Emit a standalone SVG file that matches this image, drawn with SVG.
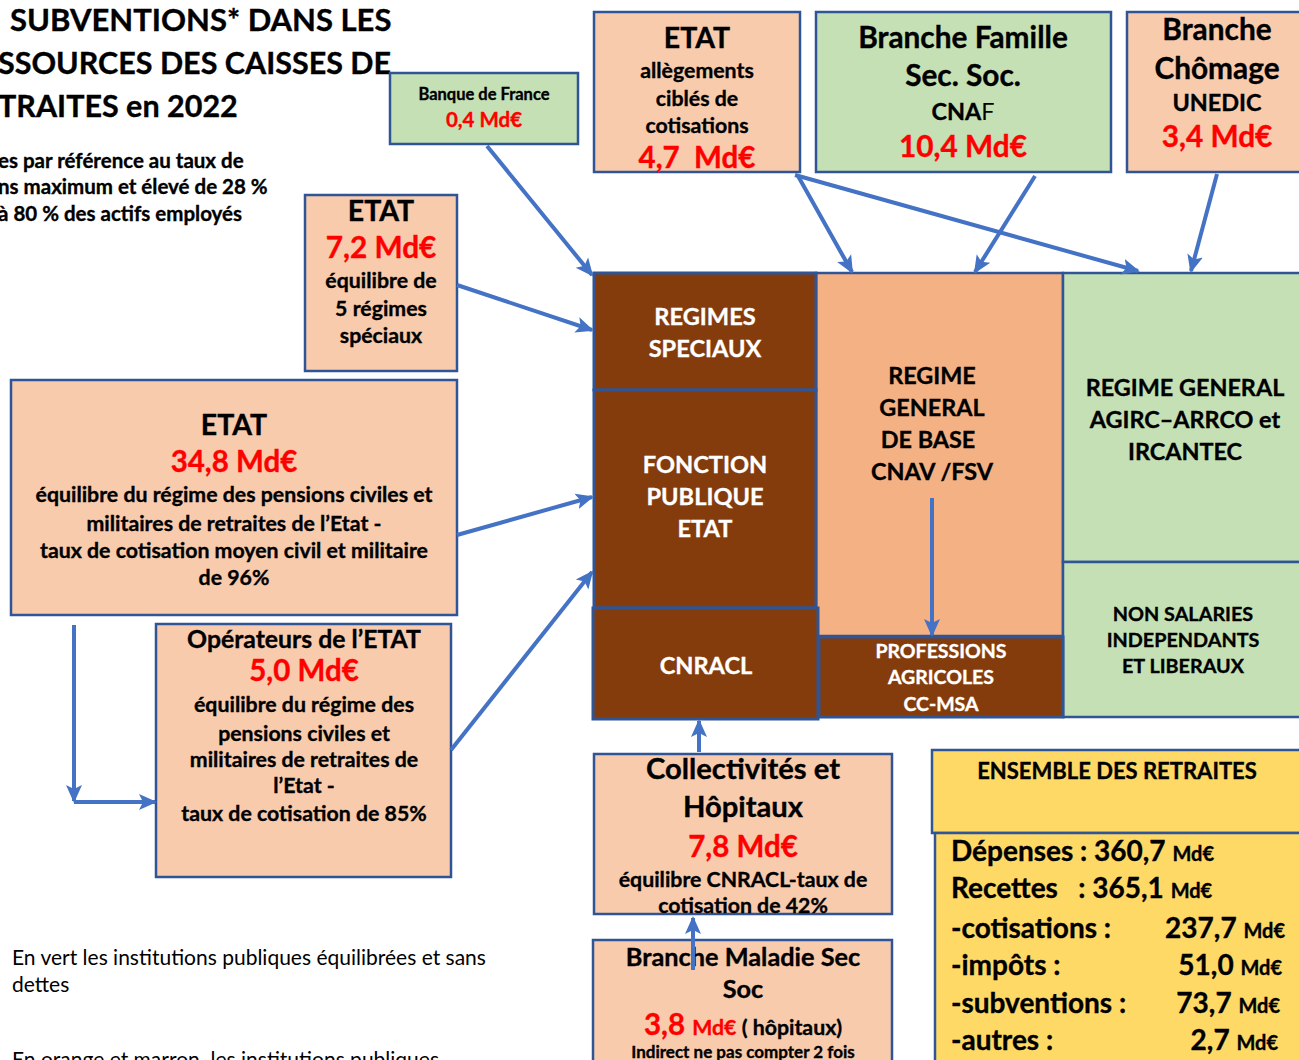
<svg xmlns="http://www.w3.org/2000/svg" width="1299" height="1060" viewBox="0 0 1299 1060">
<defs>
<marker id="ah" markerUnits="userSpaceOnUse" markerWidth="18" markerHeight="18" viewBox="0 0 18 18" refX="16" refY="9" orient="auto">
<path d="M0,1 L18,9 L0,17 L4,9 Z" fill="#4472C4"/>
</marker>
</defs>
<style>
text{font-family:Lato,"Open Sans","Noto Sans",sans-serif;font-weight:bold;text-anchor:middle;fill:#000;stroke:#000;stroke-width:0.35}
.peach{fill:#F8CBAD;stroke:#2F5597;stroke-width:2.5}
.green{fill:#C5E0B4;stroke:#2F5597;stroke-width:2.5}
.brown{fill:#843C0C;stroke:#2F5597;stroke-width:3}
.orange{fill:#F4B183;stroke:#2F5597;stroke-width:2.5}
.yellow{fill:#FFD966;stroke:#2F5597;stroke-width:2.5}
.red{fill:#FF0000;stroke:#FF0000}
.w{fill:#FFFFFF;stroke:#FFFFFF}
.l{text-anchor:start}
.r{text-anchor:end}
.n{font-weight:normal;stroke:none}
.c line{stroke:#4472C4;stroke-width:4;fill:none}
</style>

<g id="title">
<text class="l" x="10" y="31" font-size="31">SUBVENTIONS* DANS LES</text>
<text class="l" x="-2" y="74" font-size="30.5">SSOURCES DES CAISSES DE</text>
<text class="l" x="-2" y="117" font-size="30.5">TRAITES en 2022</text>
<text class="l" x="-2" y="168" font-size="20.5">es par référence au taux de</text>
<text class="l" x="-2" y="194" font-size="20.5">ns maximum et élevé de 28 %</text>
<text class="l" x="-2" y="221" font-size="20.5">à 80 % des actifs employés</text>
</g>

<g id="banque-de-france">
<rect class="green" x="390" y="73" width="188" height="71"/>
<text x="484" y="100" font-size="16.5">Banque de France</text>
<text class="red" x="484" y="127" font-size="20.5">0,4 Md€</text>
</g>

<g id="etat-allegements">
<rect class="peach" x="594" y="12" width="206" height="160"/>
<text x="697" y="48" font-size="28.5">ETAT</text>
<text x="697" y="78" font-size="21.3">allègements</text>
<text x="697" y="106" font-size="21.3">ciblés de</text>
<text x="697" y="133" font-size="21.3">cotisations</text>
<text class="red" x="697" y="168" font-size="29.5" xml:space="preserve">4,7  Md€</text>
</g>

<g id="branche-famille">
<rect class="green" x="816" y="12" width="295" height="160"/>
<text x="963" y="48" font-size="29.8">Branche Famille</text>
<text x="963" y="86" font-size="29.8">Sec. Soc.</text>
<text x="963" y="120" font-size="23.4">CNA<tspan class="n">F</tspan></text>
<text class="red" x="963" y="157" font-size="29.8">10,4 Md€</text>
</g>

<g id="branche-chomage">
<rect class="peach" x="1127" y="12" width="180" height="160"/>
<text x="1217" y="40" font-size="29.8">Branche</text>
<text x="1217" y="79" font-size="29.8">Chômage</text>
<text x="1217" y="111" font-size="23.4">UNEDIC</text>
<text class="red" x="1217" y="147" font-size="29.8">3,4 Md€</text>
</g>

<g id="etat-regimes-speciaux">
<rect class="peach" x="305" y="195" width="152" height="176"/>
<text x="381" y="221" font-size="28.5">ETAT</text>
<text class="red" x="381" y="258" font-size="29.8">7,2 Md€</text>
<text x="381" y="288" font-size="21.3">équilibre de</text>
<text x="381" y="316" font-size="21.3">5 régimes</text>
<text x="381" y="343" font-size="21.3">spéciaux</text>
</g>

<g id="etat-fonction-publique">
<rect class="peach" x="11" y="380" width="446" height="235"/>
<text x="234" y="435" font-size="28.5">ETAT</text>
<text class="red" x="234" y="472" font-size="29.5">34,8 Md€</text>
<text x="234" y="502" font-size="21.3">équilibre du régime des pensions civiles et</text>
<text x="234" y="531" font-size="21.3">militaires de retraites de l’Etat -</text>
<text x="234" y="558" font-size="21.3">taux de cotisation moyen civil et militaire</text>
<text x="234" y="585" font-size="21.3">de 96%</text>
</g>

<g id="operateurs-etat">
<rect class="peach" x="156" y="624" width="295" height="253"/>
<text x="304" y="648" font-size="24.8">Opérateurs de l’ETAT</text>
<text class="red" x="304" y="681" font-size="29.5">5,0 Md€</text>
<text x="304" y="712" font-size="21.3">équilibre du régime des</text>
<text x="304" y="741" font-size="21.3">pensions civiles et</text>
<text x="304" y="767" font-size="21.3">militaires de retraites de</text>
<text x="304" y="793" font-size="21.3">l’Etat -</text>
<text x="304" y="821" font-size="21.3">taux de cotisation de 85%</text>
</g>

<g id="regime-general-base">
<rect class="orange" x="816" y="273" width="247" height="363"/>
<text x="932" y="384" font-size="23.4">REGIME</text>
<text x="932" y="416" font-size="23.4">GENERAL</text>
<text x="928" y="448" font-size="23.4">DE BASE</text>
<text x="932" y="480" font-size="23.4">CNAV /FSV</text>
</g>

<g id="regime-general-agirc">
<rect class="green" x="1063" y="273" width="240" height="289"/>
<text x="1185" y="396" font-size="23.4">REGIME GENERAL</text>
<text x="1185" y="428" font-size="23.4">AGIRC–ARRCO et</text>
<text x="1185" y="460" font-size="23.4">IRCANTEC</text>
</g>

<g id="non-salaries">
<rect class="green" x="1063" y="562" width="240" height="155"/>
<text x="1183" y="621" font-size="19.8">NON SALARIES</text>
<text x="1183" y="647" font-size="19.8">INDEPENDANTS</text>
<text x="1183" y="673" font-size="19.8">ET LIBERAUX</text>
</g>

<g id="regimes-speciaux">
<rect class="brown" x="594" y="273" width="222" height="117"/>
<text class="w" x="705" y="325" font-size="23.6">REGIMES</text>
<text class="w" x="705" y="357" font-size="23.6">SPECIAUX</text>
</g>

<g id="fonction-publique-etat">
<rect class="brown" x="594" y="390" width="222" height="218"/>
<text class="w" x="705" y="473" font-size="23.6">FONCTION</text>
<text class="w" x="705" y="505" font-size="23.6">PUBLIQUE</text>
<text class="w" x="705" y="537" font-size="23.6">ETAT</text>
</g>

<g id="cnracl">
<rect class="brown" x="593" y="608" width="225" height="111"/>
<text class="w" x="706" y="674" font-size="23.6">CNRACL</text>
</g>

<g id="professions-agricoles">
<rect class="brown" x="819" y="637" width="244" height="80"/>
<text class="w" x="941" y="658" font-size="19.5">PROFESSIONS</text>
<text class="w" x="941" y="684" font-size="19.5">AGRICOLES</text>
<text class="w" x="941" y="711" font-size="19.5">CC-MSA</text>
</g>

<g id="collectivites-hopitaux">
<rect class="peach" x="594" y="754" width="298" height="160"/>
<text x="743" y="779" font-size="29.2">Collectivités et</text>
<text x="743" y="817" font-size="29.2">Hôpitaux</text>
<text class="red" x="743" y="857" font-size="29.5">7,8 Md€</text>
<text x="743" y="887" font-size="21.3">équilibre CNRACL-taux de</text>
<text x="743" y="913" font-size="21.3">cotisation de 42%</text>
</g>

<g id="branche-maladie">
<rect class="peach" x="593" y="940" width="299" height="130"/>
<text x="743" y="966" font-size="25.3">Branche Maladie Sec</text>
<text x="743" y="998" font-size="25.3">Soc</text>
<text x="743" y="1035" font-size="21.3"><tspan class="red" font-size="29.5">3,8 </tspan><tspan class="red">Md€</tspan> ( hôpitaux)</text>
<text x="743" y="1058" font-size="17">Indirect ne pas compter 2 fois</text>
</g>

<g id="ensemble-retraites">
<rect class="yellow" x="932" y="750" width="375" height="83"/>
<rect class="yellow" x="935" y="833" width="372" height="240"/>
<text x="1117" y="779" font-size="22">ENSEMBLE DES RETRAITES</text>
<text class="l" x="951" y="861" font-size="28">Dépenses : 360,7 <tspan font-size="20">Md€</tspan></text>
<text class="l" x="951" y="898" font-size="28" xml:space="preserve">Recettes   : 365,1 <tspan font-size="20">Md€</tspan></text>
<text class="l" x="951" y="938" font-size="28">-cotisations :</text>
<text class="r" x="1285" y="938" font-size="28">237,7 <tspan font-size="20">Md€</tspan></text>
<text class="l" x="951" y="975" font-size="28">-impôts :</text>
<text class="r" x="1282" y="975" font-size="28">51,0 <tspan font-size="20">Md€</tspan></text>
<text class="l" x="951" y="1013" font-size="28">-subventions :</text>
<text class="r" x="1280" y="1013" font-size="28">73,7 <tspan font-size="20">Md€</tspan></text>
<text class="l" x="951" y="1050" font-size="28">-autres :</text>
<text class="r" x="1278" y="1050" font-size="28">2,7 <tspan font-size="20">Md€</tspan></text>
</g>

<g id="legend">
<text class="l n" x="12" y="965" font-size="21">En vert les institutions publiques équilibrées et sans</text>
<text class="l n" x="12" y="992" font-size="21">dettes</text>
<text class="l n" x="12" y="1067" font-size="21" xml:space="preserve">En orange et marron  les institutions publiques</text>
</g>

<g id="connectors" class="c">
<line x1="487" y1="146" x2="592" y2="275" marker-end="url(#ah)"/>
<line x1="457" y1="285" x2="592" y2="330" marker-end="url(#ah)"/>
<line x1="457" y1="535" x2="592" y2="497" marker-end="url(#ah)"/>
<line x1="451" y1="750" x2="592" y2="572" marker-end="url(#ah)"/>
<line x1="798" y1="176" x2="852" y2="272" marker-end="url(#ah)"/>
<line x1="795" y1="175" x2="1138" y2="271" marker-end="url(#ah)"/>
<line x1="1035" y1="176" x2="975" y2="272" marker-end="url(#ah)"/>
<line x1="1217" y1="174" x2="1191" y2="271" marker-end="url(#ah)"/>
<line x1="74" y1="625" x2="74" y2="801" marker-end="url(#ah)"/>
<line x1="74" y1="802" x2="155" y2="802" marker-end="url(#ah)"/>
<line x1="932" y1="498" x2="932" y2="635" marker-end="url(#ah)"/>
<line x1="699" y1="752" x2="699" y2="721" marker-end="url(#ah)"/>
<line x1="693" y1="970" x2="693" y2="918" marker-end="url(#ah)"/>
</g>
</svg>
